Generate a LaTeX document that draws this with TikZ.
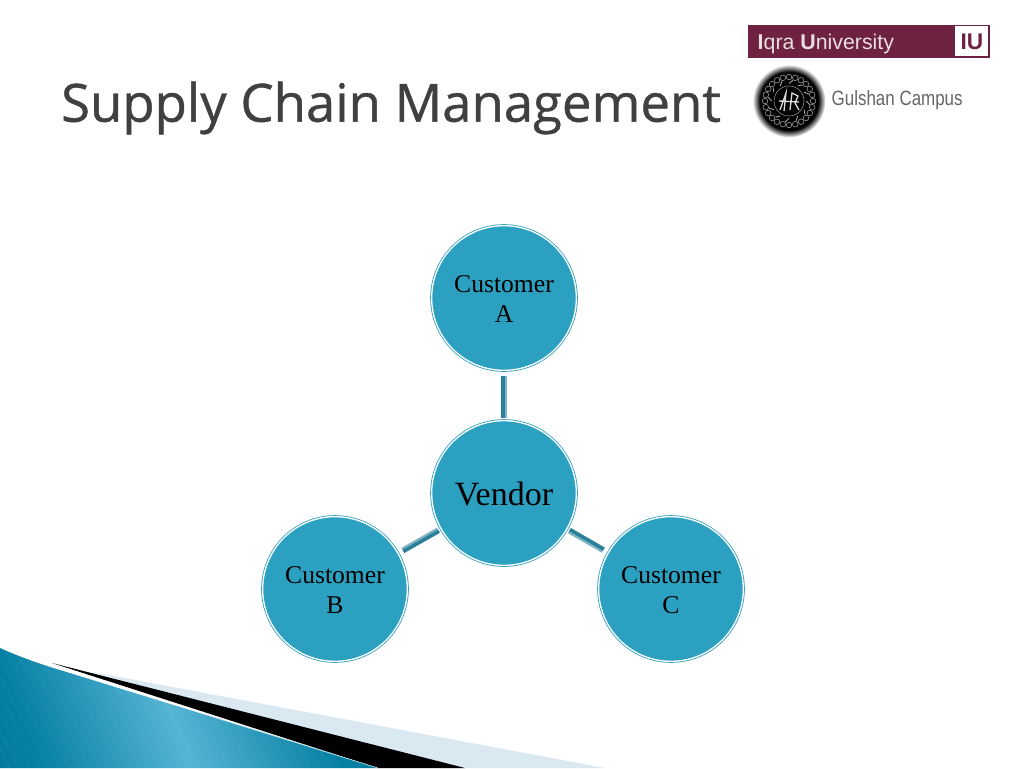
\documentclass[tikz,border=0pt]{standalone}
\usepackage{fontspec}
\setmainfont{Liberation Serif}
\newfontfamily\titlefont[FakeBold=.8]{Open Sans}
\newfontfamily\logofont{Liberation Sans}
\usetikzlibrary{positioning}
\definecolor{unitblue}{HTML}{2CA0C0}
\definecolor{linkdark}{HTML}{2A7F99}
\definecolor{linklight}{HTML}{7FB4C6}
\definecolor{maroon}{HTML}{6E2140}
\definecolor{wedgelight}{HTML}{D9E8F1}
\definecolor{wedgea}{HTML}{00607E}
\definecolor{wedgeb}{HTML}{047FA3}
\definecolor{wedgec}{HTML}{55B4D4}
\pgfdeclarehorizontalshading{wedgeblue}{100bp}{
  color(0bp)=(wedgea);
  color(32bp)=(wedgeb);
  color(50bp)=(wedgec);
  color(68bp)=(wedgeb);
  color(100bp)=(wedgea)}
\pgfdeclareradialshading{sealblur}{\pgfpoint{0bp}{0bp}}{
  color(0bp)=(black);
  color(20bp)=(black);
  color(25bp)=(white);
  color(50bp)=(white)}
\tikzset{
  x=0.75pt,y=-0.75pt,
  unit/.style={circle,minimum size=108.5pt,inner sep=0pt,fill=unitblue,draw=unitblue,
    double=white,double distance=1pt,line width=0.6pt,align=center,
    text height=36.5pt,
    font=\fontsize{19.2}{22.5}\selectfont},
  linkbase/.style={line width=4.5pt,draw=linklight,shorten >=2pt,shorten <=4pt},
  linktop/.style={line width=2.6pt,draw=linkdark,shorten >=2pt,shorten <=4pt}
}
\begin{document}
\begin{tikzpicture}
\useasboundingbox (0,0) rectangle (1024,768);
% title
\draw (391,108) node[text=black!75,font=\titlefont\fontsize{39.5}{40}\selectfont] (title) {Supply Chain Management};
% logo
\fill[maroon] (748,25) rectangle (990,58);
\fill[white] (955,26) rectangle (988,56);
\draw (753,43.5) node[anchor=west,text=white!85!maroon,font=\logofont\fontsize{16}{18}\selectfont] (iqra) {\textbf{I}qra \textbf{U}niversity};
\draw (972,41.5) node[text=maroon,font=\logofont\bfseries\fontsize{17}{18}\selectfont] (iu) {IU};
\draw (827,100.5) node[anchor=west,text=black!60,font=\logofont\fontsize{15.5}{18}\selectfont] (campus) {\scalebox{.82}[1]{Gulshan Campus}};
% seal
\shade[shading=sealblur] (789,101) circle (36.5);
\foreach \a in {0,15,...,345}
  \draw[black!45,line width=.5pt] (789,101) ++(\a:24) circle (2.8);
\foreach \a in {0,30,...,330}
  \draw[black!30,line width=.6pt] (789,101) ++(\a:17.5) -- ++(\a+50:5);
\draw[black!40,line width=.4pt] (789,101) circle (15);
\draw[black!15,line width=1pt] (780,110) -- (786,93) -- (784,111) (790,110) -- (792,93) -- (798,96) -- (795,103) -- (799,110) (779,101) -- (799,102);
% bottom wedge
\fill[wedgelight] (90,671.5) -- (605,768) -- (440,768) -- cycle;
\fill[black] (52,663) -- (465,768) -- (378,768) -- cycle;
\begin{scope}
\clip (0,648) .. controls (20,657) and (40,664) .. (60,670) -- (378,768) -- (0,768) -- cycle;
\shade[shading=wedgeblue,shading angle=20] (-70,600) rectangle (400,790);
\foreach \s in {-100,-90,...,400}
  \draw[white,opacity=.025,line width=2.5pt] (\s,640) -- (\s+70,768);
\end{scope}
\draw[white!60!unitblue,line width=.5pt] (200,713) -- (378,768);
% units
\draw (504,298) node[unit] (cusa) {Customer\\A};
\draw (504,493) node[unit,text height=18.8pt,font=\fontsize{25.5}{28}\selectfont] (vendor) {Vendor};
\draw (335,589) node[unit] (cusb) {Customer\\B};
\draw (671,589) node[unit] (cusc) {Customer\\C};
% links
\draw[linkbase] (cusa) -- (vendor);
\draw[linktop,transform canvas={xshift=-.8pt}] (cusa) -- (vendor);
\draw[linkbase] (cusb) -- (vendor);
\draw[linktop,transform canvas={xshift=.4pt,yshift=-.7pt}] (cusb) -- (vendor);
\draw[linkbase] (cusc) -- (vendor);
\draw[linktop,transform canvas={xshift=.4pt,yshift=.7pt}] (cusc) -- (vendor);
\end{tikzpicture}
\end{document}
